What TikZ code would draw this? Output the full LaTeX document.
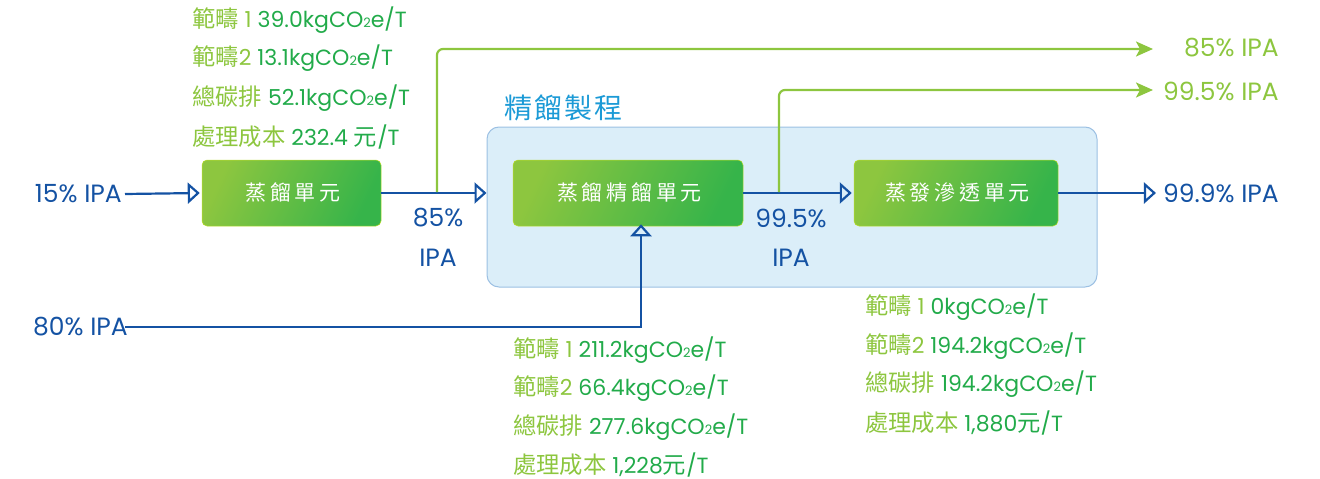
\documentclass[tikz,border=0pt]{standalone}
\usepackage{fontspec}
\setmainfont{Poppins}
\newfontfamily\cjk{Noto Sans CJK TC}[Scale=1.06]
\newfontfamily\cjkwide{Noto Sans CJK TC}[LetterSpace=18]
\newfontfamily\cjktitle{Noto Sans CJK TC}[LetterSpace=8]
\usetikzlibrary{arrows.meta}
\definecolor{iblue}{HTML}{1452A3}
\definecolor{lgreen}{HTML}{8DC63F}
\definecolor{dgreen}{HTML}{22AB4A}
\definecolor{gline}{HTML}{8DC63F}
\definecolor{pfill}{HTML}{DBEEF9}
\definecolor{pdraw}{HTML}{9CC0E3}
\definecolor{ptitle}{HTML}{1B9AD6}
\definecolor{boxA}{HTML}{8DC63F}
\definecolor{boxB}{HTML}{36B44A}
\newcommand\cotwo{CO\raisebox{-0.5pt}{\fontsize{13}{13}\selectfont 2}}
\newcommand\gl[2]{{\color{lgreen}#1}\ {\color{dgreen}#2}}
\tikzset{
  gtext/.style={anchor=west, inner sep=0pt, font=\fontsize{22}{26}\selectfont},
  btext/.style={inner sep=0pt, text=iblue, font=\fontsize{25}{28}\selectfont},
  unitbox/.style={rounded corners=5pt, draw=boxA!60!yellow, line width=0.5pt,
    top color=boxA, bottom color=boxB, shading angle=65,
    minimum height=66pt, inner sep=0pt, text=white, font=\cjkwide\fontsize{21}{24}\selectfont},
  procbox/.style={rounded corners=12pt, draw=pdraw, fill=pfill, line width=1pt, inner sep=0pt},
  barrow/.style={draw=iblue, line width=2.2pt, -{Triangle[open, length=12pt, width=21pt]}},
  garrow/.style={draw=gline, line width=2.2pt, rounded corners=6pt, -{Stealth[length=17pt, width=15pt, inset=4pt]}}
}
\begin{document}
\begin{tikzpicture}[x=1pt,y=-1pt]
\useasboundingbox (0,0) rectangle (1320,479);
% process container
\node[procbox, minimum width=610pt, minimum height=160pt] (proc) at (792,207) {};
\node[anchor=west, inner sep=0pt, text=ptitle, font=\cjktitle\fontsize{28}{32}\selectfont] (ptitle) at (504,108) {精餾製程};
% units
\node[unitbox, minimum width=179pt] (u1) at (291.5,193) {\hspace*{3pt}蒸餾單元};
\node[unitbox, minimum width=230pt] (u2) at (628,193) {\hspace*{3pt}蒸餾精餾單元};
\node[unitbox, minimum width=204pt] (u3) at (956,193) {\hspace*{3pt}蒸發滲透單元};
% blue texts
\node[btext, anchor=east] (in15) at (122,194) {15\% IPA};
\node[btext, anchor=east] (in80) at (128,327) {80\% IPA};
\node[btext] (l85) at (438,218) {85\%};
\node[btext] (l85b) at (438,258) {IPA};
\node[btext] (l995) at (791,218) {99.5\%};
\node[btext] (l995b) at (791,258) {IPA};
\node[btext, anchor=east] (o3) at (1279,193) {99.9\% IPA};
% green outputs
\node[btext, anchor=east, text=lgreen] (o1) at (1279,48) {85\% IPA};
\node[btext, anchor=east, text=lgreen] (o2) at (1279,91) {99.5\% IPA};
% blue arrows
\draw[barrow] ([xshift=3pt]in15.east) -- ([xshift=-2pt]u1.west);
\draw[barrow] (u1.east) -- (u1.east -| proc.west);
\draw[barrow] (u2.east) -- ([xshift=-2pt]u3.west);
\draw[barrow] (u3.east) -- ([xshift=-7pt]o3.west);
\draw[barrow] ([xshift=-3pt]in80.east) -| ([xshift=13pt,yshift=2pt]u2.south);
% green arrows
\coordinate (g1) at (437,192);
\coordinate (e1) at (1153,49);
\coordinate (g2) at (779,192);
\coordinate (e2) at (1153,90);
\draw[garrow] (g1) |- (e1);
\draw[garrow] (g2) |- (e2);
% green text blocks
\node[gtext] (a1) at (192,20) {\gl{{\cjk 範疇} 1}{39.0kg\cotwo e/T}};
\node[gtext] (a2) at (192,58) {\gl{{\cjk 範疇}2}{13.1kg\cotwo e/T}};
\node[gtext] (a3) at (192,98) {\gl{\cjk 總碳排}{52.1kg\cotwo e/T}};
\node[gtext] (a4) at (192,137) {\gl{\cjk 處理成本}{232.4 {\cjk 元}/T}};
\node[gtext] (b1) at (513,350) {\gl{{\cjk 範疇} 1}{211.2kg\cotwo e/T}};
\node[gtext] (b2) at (513,388) {\gl{{\cjk 範疇}2}{66.4kg\cotwo e/T}};
\node[gtext] (b3) at (513,427) {\gl{\cjk 總碳排}{277.6kg\cotwo e/T}};
\node[gtext] (b4) at (513,465) {\gl{\cjk 處理成本}{1,228{\cjk 元}/T}};
\node[gtext] (c1) at (865,307) {\gl{{\cjk 範疇} 1}{0kg\cotwo e/T}};
\node[gtext] (c2) at (865,346) {\gl{{\cjk 範疇}2}{194.2kg\cotwo e/T}};
\node[gtext] (c3) at (865,384) {\gl{\cjk 總碳排}{194.2kg\cotwo e/T}};
\node[gtext] (c4) at (865,423) {\gl{\cjk 處理成本}{1,880{\cjk 元}/T}};
\end{tikzpicture}
\end{document}
